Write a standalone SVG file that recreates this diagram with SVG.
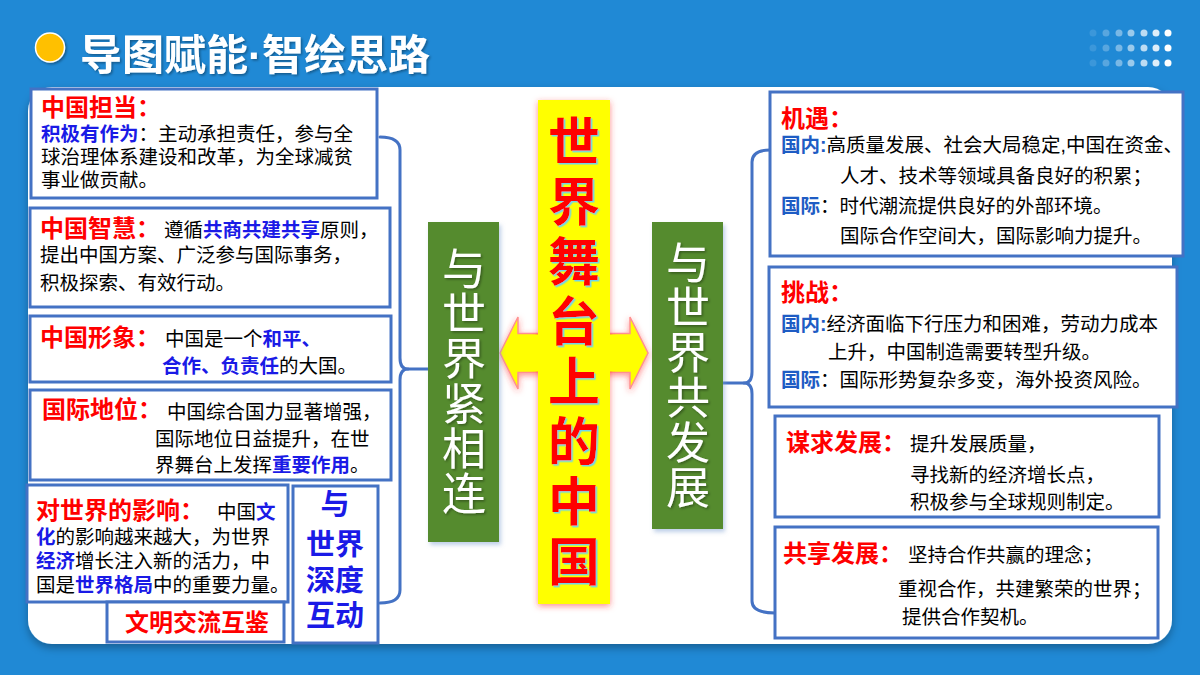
<svg xmlns="http://www.w3.org/2000/svg" width="1200" height="675" viewBox="0 0 1200 675">
<defs>
<style>
.box{fill:#fff;stroke:#4472c4;stroke-width:3}
.conn{fill:none;stroke:#4472c4;stroke-width:3;stroke-linecap:round;stroke-linejoin:round}
text{font-family:"Liberation Sans","Noto Sans CJK SC",sans-serif}
.h{font-size:24px;font-weight:700;fill:#ff0000}
.b{font-size:19.5px;fill:#000}
.bl{fill:#1a1ae6;font-weight:700}
.bl2{fill:#1e5cc4;font-weight:700}
.green{fill:#558b2f}
.vert{writing-mode:vertical-rl;font-family:"Noto Sans CJK SC",sans-serif}
.gt{font-size:44px;fill:#fff;letter-spacing:1px}
.ct{font-size:52px;font-weight:700;fill:#ff0000;letter-spacing:8px}
.dt{font-size:29px;font-weight:700;fill:#1a1ae6;text-anchor:middle}
.dot{fill:#fff}
</style>
<filter id="panelShadow" x="-5%" y="-5%" width="110%" height="115%">
<feDropShadow dx="0" dy="4" stdDeviation="4" flood-color="#000" flood-opacity="0.3"/>
</filter>
<filter id="redGlow" x="-30%" y="-10%" width="160%" height="120%">
<feDropShadow dx="0" dy="2" stdDeviation="3" flood-color="#ff3030" flood-opacity="0.55"/>
</filter>
<filter id="cyanEdge" x="-10%" y="-10%" width="130%" height="130%">
<feDropShadow dx="1.5" dy="1.5" stdDeviation="0.4" flood-color="#6fd6ea" flood-opacity="1"/>
</filter>
<filter id="softShadow" x="-10%" y="-10%" width="130%" height="130%">
<feDropShadow dx="1.5" dy="1.5" stdDeviation="1" flood-color="#000" flood-opacity="0.35"/>
</filter>
<filter id="boxShadow" x="-10%" y="-10%" width="130%" height="130%">
<feDropShadow dx="2" dy="3" stdDeviation="2" flood-color="#7fa0d0" flood-opacity="0.5"/>
</filter>
</defs>

<rect x="0" y="0" width="1200" height="675" fill="#2089d5"/>

<g id="header">
<circle cx="50" cy="47.5" r="14.5" fill="#ffc000" stroke="#fff" stroke-width="1.5" filter="url(#softShadow)"/>
<text x="80" y="70" font-size="42" font-weight="700" fill="#fff" filter="url(#softShadow)">导图赋能·智绘思路</text>
<g id="dots">
<circle class="dot" cx="1093" cy="33" r="3.5" opacity="0.12"/><circle class="dot" cx="1106" cy="33" r="3.5" opacity="0.25"/><circle class="dot" cx="1119" cy="33" r="3.5" opacity="0.4"/><circle class="dot" cx="1131" cy="33" r="3.5" opacity="0.55"/><circle class="dot" cx="1144" cy="33" r="3.5" opacity="0.7"/><circle class="dot" cx="1156" cy="33" r="3.5" opacity="0.85"/><circle class="dot" cx="1168" cy="33" r="3.5" opacity="1"/>
<circle class="dot" cx="1093" cy="48" r="3.5" opacity="0.12"/><circle class="dot" cx="1106" cy="48" r="3.5" opacity="0.25"/><circle class="dot" cx="1119" cy="48" r="3.5" opacity="0.4"/><circle class="dot" cx="1131" cy="48" r="3.5" opacity="0.55"/><circle class="dot" cx="1144" cy="48" r="3.5" opacity="0.7"/><circle class="dot" cx="1156" cy="48" r="3.5" opacity="0.85"/><circle class="dot" cx="1168" cy="48" r="3.5" opacity="1"/>
<circle class="dot" cx="1093" cy="63" r="3.5" opacity="0.12"/><circle class="dot" cx="1106" cy="63" r="3.5" opacity="0.25"/><circle class="dot" cx="1119" cy="63" r="3.5" opacity="0.4"/><circle class="dot" cx="1131" cy="63" r="3.5" opacity="0.55"/><circle class="dot" cx="1144" cy="63" r="3.5" opacity="0.7"/><circle class="dot" cx="1156" cy="63" r="3.5" opacity="0.85"/><circle class="dot" cx="1168" cy="63" r="3.5" opacity="1"/>
</g>
</g>

<rect id="panel" x="28" y="87" width="1144" height="557" rx="24" fill="#fff" filter="url(#panelShadow)"/>

<g id="connectors">
<path class="conn" d="M380 137 Q400 137 400 150 L400 358 Q400 369 408 369 Q400 369 400 380 L400 590 Q400 603 380 603"/>
<path class="conn" d="M408 369 L428 369"/>
<path class="conn" d="M770 150 Q752 150 752 162 L752 372 Q752 383 744 383 Q752 383 752 394 L752 601 Q752 613 775 613"/>
<path class="conn" d="M723 383 L744 383"/>
</g>

<g id="center-arrow">
<path d="M500 353 L518 317 L518 333.5 L630 333.5 L630 317 L648 353 L630 389 L630 372.5 L518 372.5 L518 389 Z" fill="#ffff00" stroke="#ff9090" stroke-width="1.5" filter="url(#redGlow)"/>
</g>

<g id="center-title">
<rect x="538" y="100" width="72" height="504" fill="#ffff00" filter="url(#redGlow)"/>
<path d="M530 335 L618 335 L618 371 L530 371 Z" fill="#ffff00"/>
<text class="ct vert" x="574" y="115" filter="url(#cyanEdge)">世界舞台上的中国</text>
</g>

<g id="left-branch">
<rect class="green" x="428" y="222" width="71" height="320" filter="url(#boxShadow)"/>
<text class="gt vert" x="464" y="246" filter="url(#softShadow)">与世界紧相连</text>
</g>

<g id="right-branch">
<rect class="green" x="652" y="222" width="71" height="307" filter="url(#boxShadow)"/>
<text class="gt vert" x="688" y="240" filter="url(#softShadow)">与世界共发展</text>
</g>

<g id="box-danDang">
<rect class="box" x="31" y="89" width="346" height="109"/>
<text class="h" x="41" y="116">中国担当：</text>
<text class="b"><tspan x="41" y="141"><tspan class="bl">积极有作为</tspan>：主动承担责任，参与全</tspan><tspan x="41" y="164">球治理体系建设和改革，为全球减贫</tspan><tspan x="41" y="187">事业做贡献。</tspan></text>
</g>

<g id="box-zhiHui">
<rect class="box" x="30" y="208" width="360" height="99"/>
<text class="h" x="40" y="237">中国智慧：</text>
<text class="b"><tspan x="164" y="237">遵循<tspan class="bl">共商共建共享</tspan>原则，</tspan><tspan x="40" y="262">提出中国方案、广泛参与国际事务，</tspan><tspan x="40" y="290">积极探索、有效行动。</tspan></text>
</g>

<g id="box-xingXiang">
<rect class="box" x="30" y="316" width="361" height="66"/>
<text class="h" x="40" y="346">中国形象：</text>
<text class="b"><tspan x="165" y="346">中国是一个<tspan class="bl">和平、</tspan></tspan><tspan x="162" y="373"><tspan class="bl">合作、负责任</tspan>的大国。</tspan></text>
</g>

<g id="box-diWei">
<rect class="box" x="30" y="390" width="361" height="90"/>
<text class="h" x="42" y="418">国际地位：</text>
<text class="b"><tspan x="167" y="419">中国综合国力显著增强，</tspan><tspan x="155" y="446">国际地位日益提升，在世</tspan><tspan x="155" y="472">界舞台上发挥<tspan class="bl">重要作用</tspan>。</tspan></text>
</g>

<g id="box-yingXiang">
<rect class="box" x="27" y="485" width="261" height="117"/>
<text class="h" x="36" y="519">对世界的影响：</text>
<text class="b"><tspan x="217" y="519">中国<tspan class="bl">文</tspan></tspan><tspan x="36" y="544"><tspan class="bl">化</tspan>的影响越来越大，为世界</tspan><tspan x="36" y="568"><tspan class="bl">经济</tspan>增长注入新的活力，中</tspan><tspan x="36" y="592">国是<tspan class="bl">世界格局</tspan>中的重要力量。</tspan></text>
</g>

<g id="box-huJian">
<rect class="box" x="107" y="602" width="177" height="40"/>
<text class="h" x="125" y="631">文明交流互鉴</text>
</g>

<g id="box-huDong">
<rect class="box" x="293" y="486" width="85" height="157"/>
<text class="dt"><tspan x="335" y="515">与</tspan><tspan x="335" y="555">世界</tspan><tspan x="335" y="591">深度</tspan><tspan x="335" y="626">互动</tspan></text>
</g>

<g id="box-jiYu">
<rect class="box" x="770" y="92" width="413" height="164"/>
<text class="h" x="781" y="127">机遇：</text>
<text class="b"><tspan x="781" y="152"><tspan class="bl2">国内:</tspan>高质量发展、社会大局稳定,中国在资金、</tspan><tspan x="840" y="183">人才、技术等领域具备良好的积累；</tspan><tspan x="781" y="213"><tspan class="bl2">国际</tspan>：时代潮流提供良好的外部环境。</tspan><tspan x="840" y="243">国际合作空间大，国际影响力提升。</tspan></text>
</g>

<g id="box-tiaoZhan">
<rect class="box" x="769" y="267" width="408" height="140"/>
<text class="h" x="781" y="301">挑战：</text>
<text class="b"><tspan x="781" y="331"><tspan class="bl2">国内:</tspan>经济面临下行压力和困难，劳动力成本</tspan><tspan x="828" y="359">上升，中国制造需要转型升级。</tspan><tspan x="781" y="387"><tspan class="bl2">国际</tspan>：国际形势复杂多变，海外投资风险。</tspan></text>
</g>

<g id="box-mouQiu">
<rect class="box" x="775" y="416" width="384" height="101"/>
<text class="h" x="786" y="451">谋求发展：</text>
<text class="b"><tspan x="910" y="451">提升发展质量，</tspan><tspan x="910" y="482">寻找新的经济增长点，</tspan><tspan x="910" y="509">积极参与全球规则制定。</tspan></text>
</g>

<g id="box-gongXiang">
<rect class="box" x="775" y="527" width="383" height="111"/>
<text class="h" x="783" y="562">共享发展：</text>
<text class="b"><tspan x="908" y="562">坚持合作共赢的理念；</tspan><tspan x="898" y="596">重视合作，共建繁荣的世界；</tspan><tspan x="902" y="624">提供合作契机。</tspan></text>
</g>
</svg>
